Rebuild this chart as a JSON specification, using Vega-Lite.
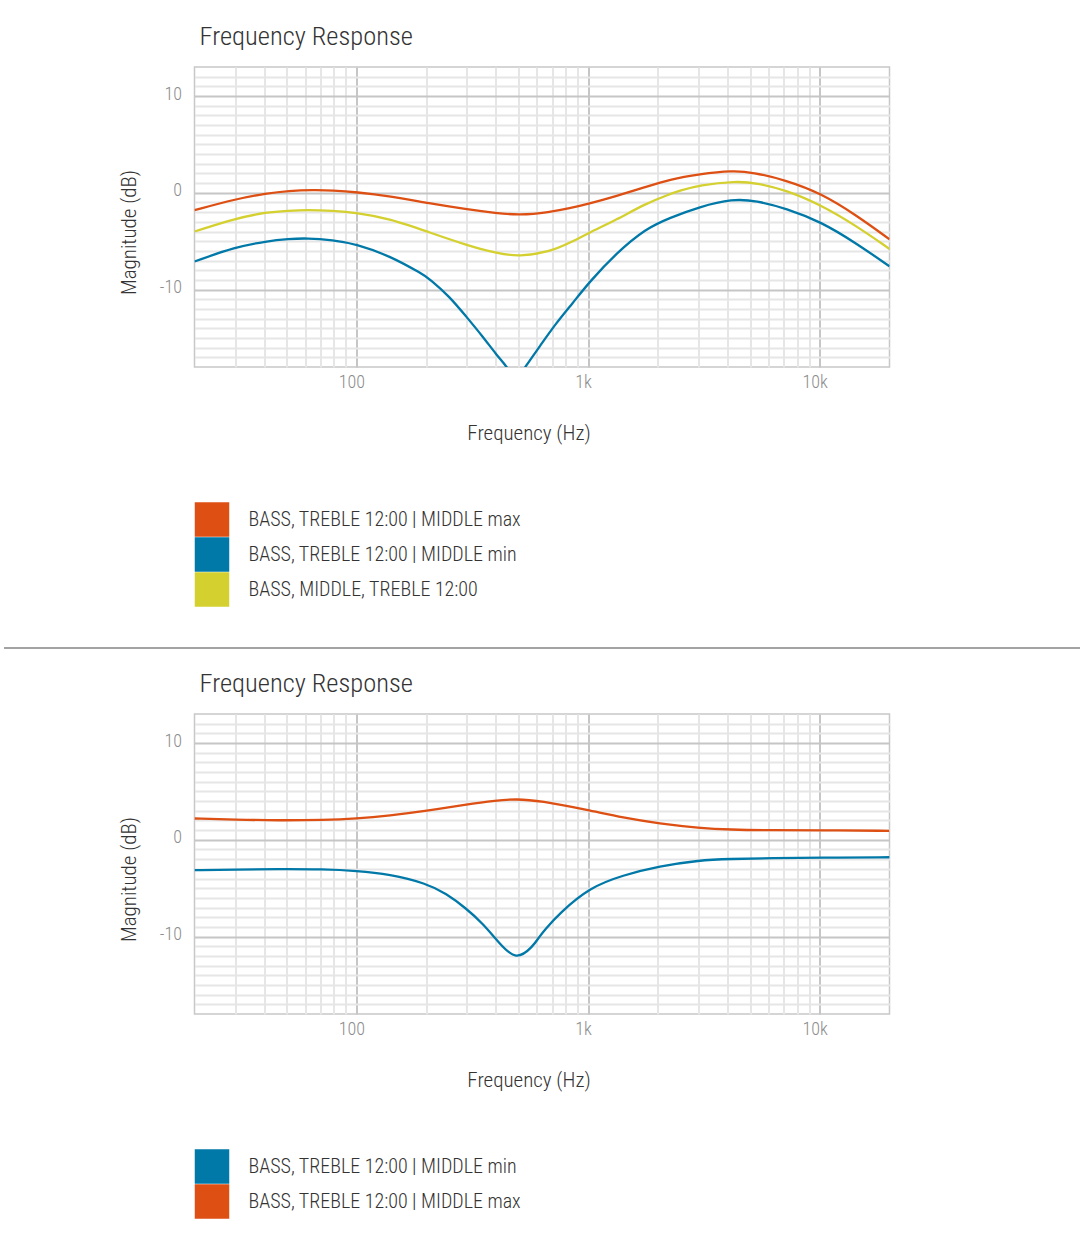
{
  "$schema": "https://vega.github.io/schema/vega-lite/v6.json",
  "padding": {"top": 23, "left": 3, "right": 0, "bottom": 0},
  "background": "white",
  "config": {
    "font": "Roboto Condensed, Liberation Sans Narrow, DejaVu Sans Condensed, sans-serif",
    "view": {"stroke": "#c8c8c8", "strokeWidth": 1.5}
  },
  "datasets": {
    "top": [
      {"f": 20, "db": -1.8, "s": "BASS, TREBLE 12:00 | MIDDLE max"},
      {"f": 30, "db": -0.65, "s": "BASS, TREBLE 12:00 | MIDDLE max"},
      {"f": 41, "db": -0.06, "s": "BASS, TREBLE 12:00 | MIDDLE max"},
      {"f": 51, "db": 0.2, "s": "BASS, TREBLE 12:00 | MIDDLE max"},
      {"f": 65, "db": 0.3, "s": "BASS, TREBLE 12:00 | MIDDLE max"},
      {"f": 79, "db": 0.25, "s": "BASS, TREBLE 12:00 | MIDDLE max"},
      {"f": 100, "db": 0.07, "s": "BASS, TREBLE 12:00 | MIDDLE max"},
      {"f": 139, "db": -0.34, "s": "BASS, TREBLE 12:00 | MIDDLE max"},
      {"f": 207, "db": -1.1, "s": "BASS, TREBLE 12:00 | MIDDLE max"},
      {"f": 298, "db": -1.7, "s": "BASS, TREBLE 12:00 | MIDDLE max"},
      {"f": 401, "db": -2.1, "s": "BASS, TREBLE 12:00 | MIDDLE max"},
      {"f": 505, "db": -2.32, "s": "BASS, TREBLE 12:00 | MIDDLE max"},
      {"f": 681, "db": -2.0, "s": "BASS, TREBLE 12:00 | MIDDLE max"},
      {"f": 831, "db": -1.6, "s": "BASS, TREBLE 12:00 | MIDDLE max"},
      {"f": 1014, "db": -1.1, "s": "BASS, TREBLE 12:00 | MIDDLE max"},
      {"f": 1321, "db": -0.34, "s": "BASS, TREBLE 12:00 | MIDDLE max"},
      {"f": 1780, "db": 0.62, "s": "BASS, TREBLE 12:00 | MIDDLE max"},
      {"f": 2244, "db": 1.38, "s": "BASS, TREBLE 12:00 | MIDDLE max"},
      {"f": 3024, "db": 1.93, "s": "BASS, TREBLE 12:00 | MIDDLE max"},
      {"f": 4210, "db": 2.3, "s": "BASS, TREBLE 12:00 | MIDDLE max"},
      {"f": 5120, "db": 2.13, "s": "BASS, TREBLE 12:00 | MIDDLE max"},
      {"f": 7158, "db": 1.3, "s": "BASS, TREBLE 12:00 | MIDDLE max"},
      {"f": 10136, "db": -0.06, "s": "BASS, TREBLE 12:00 | MIDDLE max"},
      {"f": 14350, "db": -2.3, "s": "BASS, TREBLE 12:00 | MIDDLE max"},
      {"f": 20000, "db": -4.8, "s": "BASS, TREBLE 12:00 | MIDDLE max"},

      {"f": 20, "db": -7.1, "s": "BASS, TREBLE 12:00 | MIDDLE min"},
      {"f": 30, "db": -5.6, "s": "BASS, TREBLE 12:00 | MIDDLE min"},
      {"f": 41, "db": -5.0, "s": "BASS, TREBLE 12:00 | MIDDLE min"},
      {"f": 51, "db": -4.77, "s": "BASS, TREBLE 12:00 | MIDDLE min"},
      {"f": 61, "db": -4.68, "s": "BASS, TREBLE 12:00 | MIDDLE min"},
      {"f": 79, "db": -4.88, "s": "BASS, TREBLE 12:00 | MIDDLE min"},
      {"f": 100, "db": -5.3, "s": "BASS, TREBLE 12:00 | MIDDLE min"},
      {"f": 139, "db": -6.5, "s": "BASS, TREBLE 12:00 | MIDDLE min"},
      {"f": 193, "db": -8.4, "s": "BASS, TREBLE 12:00 | MIDDLE min"},
      {"f": 207, "db": -8.9, "s": "BASS, TREBLE 12:00 | MIDDLE min"},
      {"f": 252, "db": -10.7, "s": "BASS, TREBLE 12:00 | MIDDLE min"},
      {"f": 298, "db": -12.8, "s": "BASS, TREBLE 12:00 | MIDDLE min"},
      {"f": 351, "db": -14.85, "s": "BASS, TREBLE 12:00 | MIDDLE min"},
      {"f": 401, "db": -16.7, "s": "BASS, TREBLE 12:00 | MIDDLE min"},
      {"f": 450, "db": -18.1, "s": "BASS, TREBLE 12:00 | MIDDLE min"},
      {"f": 470, "db": -18.9, "s": "BASS, TREBLE 12:00 | MIDDLE min"},
      {"f": 489, "db": -19.2, "s": "BASS, TREBLE 12:00 | MIDDLE min"},
      {"f": 508, "db": -18.9, "s": "BASS, TREBLE 12:00 | MIDDLE min"},
      {"f": 531, "db": -18.1, "s": "BASS, TREBLE 12:00 | MIDDLE min"},
      {"f": 617, "db": -15.9, "s": "BASS, TREBLE 12:00 | MIDDLE min"},
      {"f": 728, "db": -13.46, "s": "BASS, TREBLE 12:00 | MIDDLE min"},
      {"f": 858, "db": -11.4, "s": "BASS, TREBLE 12:00 | MIDDLE min"},
      {"f": 1014, "db": -9.2, "s": "BASS, TREBLE 12:00 | MIDDLE min"},
      {"f": 1321, "db": -6.25, "s": "BASS, TREBLE 12:00 | MIDDLE min"},
      {"f": 1780, "db": -3.67, "s": "BASS, TREBLE 12:00 | MIDDLE min"},
      {"f": 2244, "db": -2.6, "s": "BASS, TREBLE 12:00 | MIDDLE min"},
      {"f": 3024, "db": -1.44, "s": "BASS, TREBLE 12:00 | MIDDLE min"},
      {"f": 4210, "db": -0.62, "s": "BASS, TREBLE 12:00 | MIDDLE min"},
      {"f": 5314, "db": -0.82, "s": "BASS, TREBLE 12:00 | MIDDLE min"},
      {"f": 7158, "db": -1.6, "s": "BASS, TREBLE 12:00 | MIDDLE min"},
      {"f": 10136, "db": -3.0, "s": "BASS, TREBLE 12:00 | MIDDLE min"},
      {"f": 14350, "db": -5.2, "s": "BASS, TREBLE 12:00 | MIDDLE min"},
      {"f": 20000, "db": -7.6, "s": "BASS, TREBLE 12:00 | MIDDLE min"},

      {"f": 20, "db": -4.0, "s": "BASS, MIDDLE, TREBLE 12:00"},
      {"f": 30, "db": -2.65, "s": "BASS, MIDDLE, TREBLE 12:00"},
      {"f": 41, "db": -2.0, "s": "BASS, MIDDLE, TREBLE 12:00"},
      {"f": 51, "db": -1.85, "s": "BASS, MIDDLE, TREBLE 12:00"},
      {"f": 61, "db": -1.75, "s": "BASS, MIDDLE, TREBLE 12:00"},
      {"f": 79, "db": -1.85, "s": "BASS, MIDDLE, TREBLE 12:00"},
      {"f": 100, "db": -2.05, "s": "BASS, MIDDLE, TREBLE 12:00"},
      {"f": 139, "db": -2.65, "s": "BASS, MIDDLE, TREBLE 12:00"},
      {"f": 207, "db": -4.1, "s": "BASS, MIDDLE, TREBLE 12:00"},
      {"f": 298, "db": -5.4, "s": "BASS, MIDDLE, TREBLE 12:00"},
      {"f": 401, "db": -6.25, "s": "BASS, MIDDLE, TREBLE 12:00"},
      {"f": 505, "db": -6.6, "s": "BASS, MIDDLE, TREBLE 12:00"},
      {"f": 681, "db": -6.1, "s": "BASS, MIDDLE, TREBLE 12:00"},
      {"f": 831, "db": -5.2, "s": "BASS, MIDDLE, TREBLE 12:00"},
      {"f": 1014, "db": -4.1, "s": "BASS, MIDDLE, TREBLE 12:00"},
      {"f": 1321, "db": -2.8, "s": "BASS, MIDDLE, TREBLE 12:00"},
      {"f": 1780, "db": -1.1, "s": "BASS, MIDDLE, TREBLE 12:00"},
      {"f": 2244, "db": -0.15, "s": "BASS, MIDDLE, TREBLE 12:00"},
      {"f": 2479, "db": 0.2, "s": "BASS, MIDDLE, TREBLE 12:00"},
      {"f": 3024, "db": 0.8, "s": "BASS, MIDDLE, TREBLE 12:00"},
      {"f": 4356, "db": 1.2, "s": "BASS, MIDDLE, TREBLE 12:00"},
      {"f": 5314, "db": 1.03, "s": "BASS, MIDDLE, TREBLE 12:00"},
      {"f": 7158, "db": 0.28, "s": "BASS, MIDDLE, TREBLE 12:00"},
      {"f": 10136, "db": -1.27, "s": "BASS, MIDDLE, TREBLE 12:00"},
      {"f": 14350, "db": -3.4, "s": "BASS, MIDDLE, TREBLE 12:00"},
      {"f": 20000, "db": -5.8, "s": "BASS, MIDDLE, TREBLE 12:00"}
    ],
    "bottom": [
      {"f": 20, "db": -3.14, "s": "BASS, TREBLE 12:00 | MIDDLE min"},
      {"f": 30, "db": -3.07, "s": "BASS, TREBLE 12:00 | MIDDLE min"},
      {"f": 46.5, "db": -3.02, "s": "BASS, TREBLE 12:00 | MIDDLE min"},
      {"f": 72, "db": -3.04, "s": "BASS, TREBLE 12:00 | MIDDLE min"},
      {"f": 100, "db": -3.2, "s": "BASS, TREBLE 12:00 | MIDDLE min"},
      {"f": 139, "db": -3.56, "s": "BASS, TREBLE 12:00 | MIDDLE min"},
      {"f": 200, "db": -4.5, "s": "BASS, TREBLE 12:00 | MIDDLE min"},
      {"f": 244, "db": -5.55, "s": "BASS, TREBLE 12:00 | MIDDLE min"},
      {"f": 298, "db": -7.1, "s": "BASS, TREBLE 12:00 | MIDDLE min"},
      {"f": 351, "db": -8.64, "s": "BASS, TREBLE 12:00 | MIDDLE min"},
      {"f": 414, "db": -10.7, "s": "BASS, TREBLE 12:00 | MIDDLE min"},
      {"f": 489, "db": -12.5, "s": "BASS, TREBLE 12:00 | MIDDLE min"},
      {"f": 577, "db": -11.05, "s": "BASS, TREBLE 12:00 | MIDDLE min"},
      {"f": 617, "db": -10.0, "s": "BASS, TREBLE 12:00 | MIDDLE min"},
      {"f": 648, "db": -9.33, "s": "BASS, TREBLE 12:00 | MIDDLE min"},
      {"f": 752, "db": -7.6, "s": "BASS, TREBLE 12:00 | MIDDLE min"},
      {"f": 1014, "db": -4.93, "s": "BASS, TREBLE 12:00 | MIDDLE min"},
      {"f": 1411, "db": -3.66, "s": "BASS, TREBLE 12:00 | MIDDLE min"},
      {"f": 2032, "db": -2.73, "s": "BASS, TREBLE 12:00 | MIDDLE min"},
      {"f": 3024, "db": -2.11, "s": "BASS, TREBLE 12:00 | MIDDLE min"},
      {"f": 4074, "db": -1.98, "s": "BASS, TREBLE 12:00 | MIDDLE min"},
      {"f": 6266, "db": -1.88, "s": "BASS, TREBLE 12:00 | MIDDLE min"},
      {"f": 10136, "db": -1.84, "s": "BASS, TREBLE 12:00 | MIDDLE min"},
      {"f": 20000, "db": -1.8, "s": "BASS, TREBLE 12:00 | MIDDLE min"},

      {"f": 20, "db": 2.2, "s": "BASS, TREBLE 12:00 | MIDDLE max"},
      {"f": 30, "db": 2.08, "s": "BASS, TREBLE 12:00 | MIDDLE max"},
      {"f": 46.5, "db": 2.0, "s": "BASS, TREBLE 12:00 | MIDDLE max"},
      {"f": 72, "db": 2.05, "s": "BASS, TREBLE 12:00 | MIDDLE max"},
      {"f": 100, "db": 2.2, "s": "BASS, TREBLE 12:00 | MIDDLE max"},
      {"f": 139, "db": 2.5, "s": "BASS, TREBLE 12:00 | MIDDLE max"},
      {"f": 200, "db": 2.97, "s": "BASS, TREBLE 12:00 | MIDDLE max"},
      {"f": 298, "db": 3.66, "s": "BASS, TREBLE 12:00 | MIDDLE max"},
      {"f": 401, "db": 4.07, "s": "BASS, TREBLE 12:00 | MIDDLE max"},
      {"f": 489, "db": 4.22, "s": "BASS, TREBLE 12:00 | MIDDLE max"},
      {"f": 617, "db": 4.05, "s": "BASS, TREBLE 12:00 | MIDDLE max"},
      {"f": 1014, "db": 3.04, "s": "BASS, TREBLE 12:00 | MIDDLE max"},
      {"f": 1411, "db": 2.29, "s": "BASS, TREBLE 12:00 | MIDDLE max"},
      {"f": 2032, "db": 1.67, "s": "BASS, TREBLE 12:00 | MIDDLE max"},
      {"f": 3024, "db": 1.22, "s": "BASS, TREBLE 12:00 | MIDDLE max"},
      {"f": 4074, "db": 1.05, "s": "BASS, TREBLE 12:00 | MIDDLE max"},
      {"f": 6266, "db": 0.98, "s": "BASS, TREBLE 12:00 | MIDDLE max"},
      {"f": 10136, "db": 1.0, "s": "BASS, TREBLE 12:00 | MIDDLE max"},
      {"f": 20000, "db": 0.92, "s": "BASS, TREBLE 12:00 | MIDDLE max"}
    ]
  },
  "vconcat": [
    {
      "width": 695,
      "height": 300,
      "title": {"text": "Frequency Response", "anchor": "start", "frame": "group", "fontSize": 26.5, "fontWeight": 300, "color": "#333333", "offset": -6, "baseline": "alphabetic", "dx": 5},
      "data": {"name": "top"},
      "mark": {"type": "line", "interpolate": "basis", "strokeWidth": 2.3, "clip": true},
      "encoding": {
        "x": {
          "field": "f", "type": "quantitative", "title": "Frequency (Hz)",
          "scale": {"type": "log", "domain": [20, 20000], "nice": false},
          "axis": {
            "values": [30, 40, 50, 60, 70, 80, 90, 100, 200, 300, 400, 500, 600, 700, 800, 900, 1000, 2000, 3000, 4000, 5000, 6000, 7000, 8000, 9000, 10000],
            "labelExpr": "datum.value == 100 ? '100' : datum.value == 1000 ? '1k' : datum.value == 10000 ? '10k' : ''",
            "grid": true,
            "gridColor": {"condition": {"test": "datum.value == 100 || datum.value == 1000 || datum.value == 10000", "value": "#c6c6c6"}, "value": "#e6e6e6"},
            "gridWidth": 2,
            "ticks": false, "domain": false,
            "labelOverlap": false, "labelFlush": false,
            "labelFontSize": 18, "labelColor": "#8c8c8c", "labelFontWeight": 300, "labelPadding": 6, "labelOffset": -5,
            "titleFontSize": 21, "titleFontWeight": 300, "titleColor": "#333333",
            "titleX": 334, "titleY": 72, "titleBaseline": "alphabetic", "titleAlign": "center"
          }
        },
        "y": {
          "field": "db", "type": "quantitative", "title": "Magnitude (dB)",
          "scale": {"domain": [-18, 13], "nice": false, "zero": false},
          "axis": {
            "values": [-17, -16, -15, -14, -13, -12, -11, -10, -9, -8, -7, -6, -5, -4, -3, -2, -1, 0, 1, 2, 3, 4, 5, 6, 7, 8, 9, 10, 11, 12],
            "labelExpr": "datum.value % 10 == 0 ? '' + datum.value : ''",
            "grid": true,
            "gridColor": {"condition": {"test": "datum.value % 10 == 0", "value": "#c6c6c6"}, "value": "#e6e6e6"},
            "gridWidth": 2,
            "ticks": false, "domain": false,
            "labelOverlap": false, "labelFlush": false,
            "labelFontSize": 18, "labelColor": "#8c8c8c", "labelFontWeight": 300, "labelPadding": 13, "labelOffset": -2,
            "titleFontSize": 21, "titleFontWeight": 300, "titleColor": "#333333",
            "titleX": -55, "titleY": 165, "titleBaseline": "bottom", "titleAlign": "center", "titleAngle": -90
          }
        },
        "color": {
          "field": "s", "type": "nominal",
          "scale": {"domain": ["BASS, TREBLE 12:00 | MIDDLE max", "BASS, TREBLE 12:00 | MIDDLE min", "BASS, MIDDLE, TREBLE 12:00"], "range": ["#dd4f13", "#0078a8", "#d4d02f"]},
          "legend": {
            "orient": "none", "legendX": 0, "legendY": 435, "title": null, "direction": "vertical",
            "symbolType": "square", "symbolSize": 1190, "symbolStrokeWidth": 0, "rowPadding": 0, "padding": 0,
            "labelOffset": 19, "labelFontSize": 20, "labelColor": "#333333", "labelFontWeight": 300, "labelLimit": 600,
            "encode": {"symbols": {"update": {"fill": {"scale": "concat_0_color", "field": "value"}, "fillOpacity": {"value": 1}, "strokeWidth": {"value": 0}, "opacity": {"value": 1}}}}
          }
        }
      }
    },
    {
      "width": 1076,
      "height": 215,
      "view": {"stroke": null},
      "data": {"values": [{"sep": 0}]},
      "mark": {"type": "rule", "color": "#a3a3a3", "strokeWidth": 2},
      "encoding": {"y": {"field": "sep", "type": "quantitative", "scale": {"domain": [0, 1]}, "axis": null}}
    },
    {
      "width": 695,
      "height": 300,
      "title": {"text": "Frequency Response", "anchor": "start", "frame": "group", "fontSize": 26.5, "fontWeight": 300, "color": "#333333", "offset": -6, "baseline": "alphabetic", "dx": 5},
      "data": {"name": "bottom"},
      "mark": {"type": "line", "interpolate": "basis", "strokeWidth": 2.3, "clip": true},
      "encoding": {
        "x": {
          "field": "f", "type": "quantitative", "title": "Frequency (Hz)",
          "scale": {"type": "log", "domain": [20, 20000], "nice": false},
          "axis": {
            "values": [30, 40, 50, 60, 70, 80, 90, 100, 200, 300, 400, 500, 600, 700, 800, 900, 1000, 2000, 3000, 4000, 5000, 6000, 7000, 8000, 9000, 10000],
            "labelExpr": "datum.value == 100 ? '100' : datum.value == 1000 ? '1k' : datum.value == 10000 ? '10k' : ''",
            "grid": true,
            "gridColor": {"condition": {"test": "datum.value == 100 || datum.value == 1000 || datum.value == 10000", "value": "#c6c6c6"}, "value": "#e6e6e6"},
            "gridWidth": 2,
            "ticks": false, "domain": false,
            "labelOverlap": false, "labelFlush": false,
            "labelFontSize": 18, "labelColor": "#8c8c8c", "labelFontWeight": 300, "labelPadding": 6, "labelOffset": -5,
            "titleFontSize": 21, "titleFontWeight": 300, "titleColor": "#333333",
            "titleX": 334, "titleY": 72, "titleBaseline": "alphabetic", "titleAlign": "center"
          }
        },
        "y": {
          "field": "db", "type": "quantitative", "title": "Magnitude (dB)",
          "scale": {"domain": [-18, 13], "nice": false, "zero": false},
          "axis": {
            "values": [-17, -16, -15, -14, -13, -12, -11, -10, -9, -8, -7, -6, -5, -4, -3, -2, -1, 0, 1, 2, 3, 4, 5, 6, 7, 8, 9, 10, 11, 12],
            "labelExpr": "datum.value % 10 == 0 ? '' + datum.value : ''",
            "grid": true,
            "gridColor": {"condition": {"test": "datum.value % 10 == 0", "value": "#c6c6c6"}, "value": "#e6e6e6"},
            "gridWidth": 2,
            "ticks": false, "domain": false,
            "labelOverlap": false, "labelFlush": false,
            "labelFontSize": 18, "labelColor": "#8c8c8c", "labelFontWeight": 300, "labelPadding": 13, "labelOffset": -2,
            "titleFontSize": 21, "titleFontWeight": 300, "titleColor": "#333333",
            "titleX": -55, "titleY": 165, "titleBaseline": "bottom", "titleAlign": "center", "titleAngle": -90
          }
        },
        "color": {
          "field": "s", "type": "nominal",
          "scale": {"domain": ["BASS, TREBLE 12:00 | MIDDLE min", "BASS, TREBLE 12:00 | MIDDLE max"], "range": ["#0078a8", "#dd4f13"]},
          "legend": {
            "orient": "none", "legendX": 0, "legendY": 435, "title": null, "direction": "vertical",
            "symbolType": "square", "symbolSize": 1190, "symbolStrokeWidth": 0, "rowPadding": 0, "padding": 0,
            "labelOffset": 19, "labelFontSize": 20, "labelColor": "#333333", "labelFontWeight": 300, "labelLimit": 600,
            "encode": {"symbols": {"update": {"fill": {"scale": "concat_2_color", "field": "value"}, "fillOpacity": {"value": 1}, "strokeWidth": {"value": 0}, "opacity": {"value": 1}}}}
          }
        }
      }
    }
  ],
  "spacing": 66,
  "bounds": "flush",
  "center": true,
  "resolve": {"scale": {"color": "independent"}}
}
